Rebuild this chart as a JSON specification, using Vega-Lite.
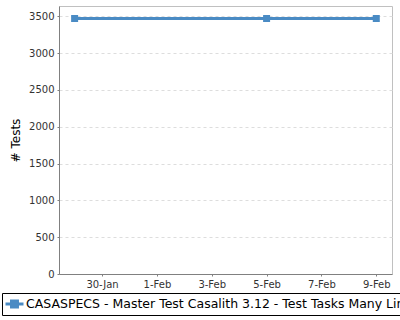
{
  "$schema": "https://vega.github.io/schema/vega-lite/v6.json",
  "autosize": {"type": "none"},
  "width": 333,
  "height": 268,
  "padding": {"left": 59, "top": 6, "right": 8, "bottom": 46},
  "background": "white",
  "config": {
    "font": "DejaVu Sans",
    "view": {"stroke": "#c0c0c0", "strokeWidth": 1},
    "axis": {
      "labelFont": "DejaVu Sans",
      "labelFontSize": 10,
      "labelColor": "#333333",
      "titleFont": "DejaVu Sans",
      "titleFontWeight": "normal",
      "titleColor": "#000000",
      "domainColor": "#808080",
      "tickColor": "#808080",
      "tickSize": 2,
      "labelPadding": 3
    }
  },
  "data": {
    "values": [
      {"date": "2023-01-29T00:00:00", "tests": 3470, "series": "CASASPECS - Master Test Casalith 3.12 - Test Tasks Many Lines"},
      {"date": "2023-02-05T00:00:00", "tests": 3470, "series": "CASASPECS - Master Test Casalith 3.12 - Test Tasks Many Lines"},
      {"date": "2023-02-09T00:00:00", "tests": 3470, "series": "CASASPECS - Master Test Casalith 3.12 - Test Tasks Many Lines"}
    ]
  },
  "mark": {"type": "line", "strokeWidth": 3, "point": {"shape": "square", "size": 49, "filled": true, "opacity": 1}},
  "encoding": {
    "x": {
      "field": "date",
      "type": "temporal",
      "scale": {"domain": ["2023-01-28T10:20:00", "2023-02-09T13:45:00"]},
      "axis": {
        "title": null,
        "format": "%-d-%b",
        "grid": false,
        "values": [
          {"year": 2023, "month": 1, "date": 30},
          {"year": 2023, "month": 2, "date": 1},
          {"year": 2023, "month": 2, "date": 3},
          {"year": 2023, "month": 2, "date": 5},
          {"year": 2023, "month": 2, "date": 7},
          {"year": 2023, "month": 2, "date": 9}
        ]
      }
    },
    "y": {
      "field": "tests",
      "type": "quantitative",
      "scale": {"domain": [0, 3640], "nice": false},
      "axis": {
        "title": "# Tests",
        "format": "d",
        "titleFontSize": 12,
        "titleFontWeight": "normal",
        "titlePadding": 6,
        "values": [0, 500, 1000, 1500, 2000, 2500, 3000, 3500],
        "grid": true,
        "gridColor": "#dddddd",
        "gridDash": [3, 3]
      }
    },
    "color": {
      "field": "series",
      "type": "nominal",
      "scale": {"range": ["#4a8bc4"]},
      "legend": {
        "title": null,
        "orient": "none",
        "legendX": -57,
        "legendY": 287,
        "strokeColor": "#000000",
        "padding": 2,
        "clipHeight": 18,
        "labelOffset": 1,
        "labelFont": "DejaVu Sans",
        "labelFontSize": 12.5,
        "labelColor": "#000000",
        "labelLimit": 1000,
        "symbolType": "M-1,0H1M-0.33,-0.33H0.33V0.33H-0.33Z",
        "symbolSize": 324,
        "symbolStrokeWidth": 3,
        "symbolFillColor": "#4a8bc4",
        "symbolOpacity": 1
      }
    }
  }
}
